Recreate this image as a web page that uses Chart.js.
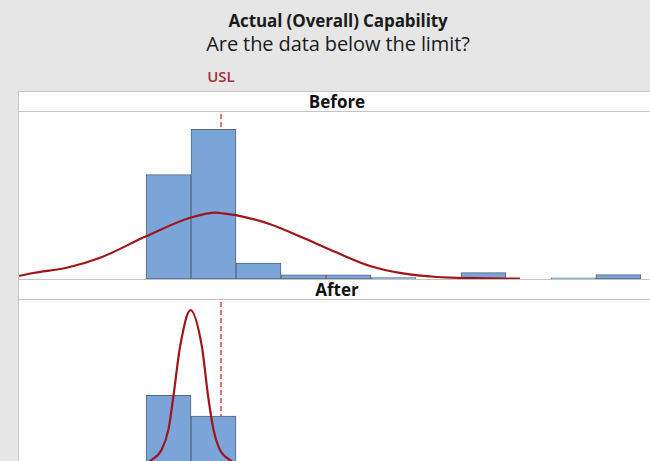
<!DOCTYPE html>
<html>
<head>
<meta charset="utf-8">
<script src="https://cdn.jsdelivr.net/npm/chart.js@4.4.0/dist/chart.umd.min.js"></script>
<style>
  html, body { margin:0; padding:0; }
  body { width:650px; height:461px; overflow:hidden; background:#e6e6e6; position:relative; font-family:"Open Sans", "Noto Sans", sans-serif; }
  .title { position:absolute; left:0; width:676px; text-align:center; color:#1a1a1a; }
  #t1 { top:9px; font-size:17px; font-weight:700; letter-spacing:-0.1px; }
  #t2 { top:30px; font-size:20px; letter-spacing:-0.1px; }
  #usl { position:absolute; left:201px; top:66px; width:40px; text-align:center; font-size:15px; font-weight:600; color:#a3303a; }
  #panel { position:absolute; left:18px; top:91px; width:660px; height:400px; background:#fff; border-left:1px solid #c4c4c4; border-top:1px solid #c4c4c4; }
  .strip { position:absolute; left:19px; width:660px; height:19px; background:#fff; border-top:1px solid #c4c4c4; border-bottom:1px solid #c4c4c4; text-align:center; font-size:17px; font-weight:700; line-height:19px; color:#111; }
  .strip span { position:relative; left:-12px; }
  canvas { position:absolute; }
</style>
</head>
<body>
<div class="title" id="t1">Actual (Overall) Capability</div>
<div class="title" id="t2">Are the data below the limit?</div>
<div id="usl">USL</div>
<div id="panel"></div>
<div class="strip" style="top:91px"><span>Before</span></div>
<div class="strip" style="top:279px"><span>After</span></div>
<canvas id="chartBefore" width="640" height="167" style="left:19px; top:112px"></canvas>
<canvas id="chartAfter" width="640" height="167" style="left:19px; top:300px"></canvas>
<script>
// histogram bins (centre of each bin, bin width = 1)
const binCenters = [0.5, 1.5, 2.5, 3.5, 4.5, 5.5, 6.5, 7.5, 8.5, 9.5, 10.5];
const beforeHeights = [26.1, 37.4, 4, 1.05, 1.05, 0.35, 0, 1.6, 0, 0.3, 1.1];
const afterHeights = [17.9, 12.75, 0, 0, 0, 0, 0, 0, 0, 0, 0];

const uslValue = 1.667;

// fitted normal curves
const beforeCurveX = [-2.82, -2.51, -1.76, -1.02, -0.01, 0.98, 1.57, 1.64, 2.02, 2.76, 3.49, 4.24, 4.98, 5.71, 6.46, 7.3, 8.31];
const beforeCurveY = [0.75, 1.5, 2.8, 5.3, 10.6, 15.3, 16.6, 16.5, 15.9, 13.7, 10.3, 6.6, 3.25, 1.4, 0.5, 0.2, 0.1];
const afterCurveX = [-0.4, -0.1, 0.09, 0.35, 0.5, 0.61, 0.76, 0.99, 1.24, 1.38, 1.5, 1.64, 1.9, 2.1, 2.4];
const afterCurveY = [0, 0.2, 1.5, 4.4, 9.4, 17.75, 30.25, 39.2, 30.25, 17.75, 9.4, 4.4, 1.5, 0.2, 0];

function toPoints(xs, ys, dropZero){
    var pts = [];
    for (var i = 0; i < xs.length; i++) {
        pts.push({x: xs[i], y: (dropZero && ys[i] === 0) ? null : ys[i]});
    }
    return pts;
}

function makePanel(id, heights, curveX, curveY){
    var ctx = document.getElementById(id).getContext('2d');
    var yMax = 41.75;
    return new Chart(ctx, {
        data: {
            datasets: [
                {
                    type: 'line',
                    data: toPoints(curveX, curveY, false),
                    borderColor: '#a0151c',
                    borderWidth: 2.2,
                    pointRadius: 0,
                    cubicInterpolationMode: 'monotone',
                    order: 0
                },
                {
                    type: 'bar',
                    data: toPoints(binCenters, heights, true),
                    backgroundColor: '#7ba5d9',
                    borderColor: '#56687a',
                    borderWidth: 1,
                    borderSkipped: false,
                    barPercentage: 1,
                    categoryPercentage: 1,
                    order: 1
                },
                {
                    type: 'line',
                    data: [{x: uslValue, y: 0}, {x: uslValue, y: yMax}],
                    borderColor: '#d2424c',
                    borderWidth: 1.5,
                    borderDash: [5, 3],
                    pointRadius: 0,
                    order: 2
                }
            ]
        },
        options: {
            responsive: false,
            animation: false,
            layout: { padding: 0 },
            plugins: { legend: { display: false }, tooltip: { enabled: false } },
            scales: {
                x: { type: 'linear', min: -2.822, max: 11.4, offset: false, display: false },
                y: { min: 0, max: yMax, display: false }
            }
        }
    });
}

makePanel('chartBefore', beforeHeights, beforeCurveX, beforeCurveY);
makePanel('chartAfter', afterHeights, afterCurveX, afterCurveY);
</script>
</body>
</html>
